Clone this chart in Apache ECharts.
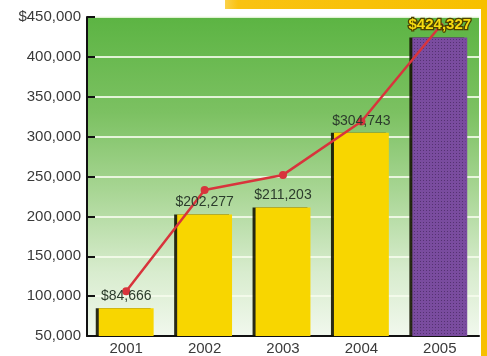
<!DOCTYPE html>
<html>
<head>
<meta charset="utf-8">
<script src="https://cdn.jsdelivr.net/npm/echarts@6/dist/echarts.min.js"></script>
<style>
  html, body { margin: 0; padding: 0; background: #ffffff; }
  #chart { width: 487px; height: 356px; }
</style>
</head>
<body>
<div id="chart"></div>
<script>
// Yearly revenue with a trend line
const categories = ['2001', '2002', '2003', '2004', '2005'];
const revenue = [84666, 202277, 211203, 304743, 424327];
const trend = [106000, 233000, 252000, 319000, 438000];
const yTicks = { min: 50000, max: 450000, step: 50000 };

const fmtMoney = v => '$' + v.toLocaleString('en-US');

const chart = echarts.init(document.getElementById('chart'), null, { renderer: 'canvas' });

const yellow = '#f8d600';
const purple = '#7a4c9f';

const barData = revenue.map((v, i) => {
  const last = i === revenue.length - 1;
  return {
    value: v,
    itemStyle: last ? {
      color: purple,
      decal: {
        symbol: 'rect',
        symbolSize: 1,
        color: 'rgba(50, 20, 80, 0.22)',
        dashArrayX: [1, 2],
        dashArrayY: [1, 2]
      }
    } : { color: yellow }
  };
});

const labelData = revenue.map((v, i) => {
  const last = i === revenue.length - 1;
  return {
    value: v,
    label: last ? {
      color: '#f6dc10',
      fontSize: 15,
      fontWeight: 'bold',
      textBorderColor: '#4d4000',
      textBorderWidth: 2.5
    } : {}
  };
});

chart.setOption({
  animation: false,
  textStyle: { fontFamily: 'Liberation Sans, Arial, sans-serif' },
  graphic: [
    // orange frame pieces around the plot
    {
      type: 'rect', z: -10,
      shape: { x: 225, y: 0, width: 262, height: 9 },
      style: {
        fill: new echarts.graphic.LinearGradient(0, 0, 1, 0, [
          { offset: 0, color: '#fbd24a' },
          { offset: 0.05, color: '#f9c212' },
          { offset: 1, color: '#f7c000' }
        ])
      }
    },
    {
      type: 'rect', z: -10,
      shape: { x: 481, y: 0, width: 6, height: 356 },
      style: { fill: '#f7c000' }
    }
  ],
  grid: {
    left: 87, right: 8, top: 17, bottom: 18,
    show: true,
    borderWidth: 0,
    backgroundColor: new echarts.graphic.LinearGradient(0, 0, 0, 1, [
      { offset: 0, color: '#5cb443' },
      { offset: 0.3, color: '#7cc162' },
      { offset: 0.55, color: '#a9d695' },
      { offset: 0.8, color: '#d8ecce' },
      { offset: 1, color: '#f1f8ed' }
    ])
  },
  xAxis: {
    type: 'category',
    data: categories,
    boundaryGap: true,
    axisLine: { lineStyle: { color: '#111', width: 2 } },
    axisTick: { inside: true, length: 6, lineStyle: { color: '#111', width: 2 } },
    axisLabel: { color: '#3a3a3a', fontSize: 15, margin: 5 }
  },
  yAxis: {
    type: 'value',
    min: yTicks.min,
    max: yTicks.max,
    interval: yTicks.step,
    axisLine: { show: true, lineStyle: { color: '#111', width: 2 } },
    axisTick: { show: true, inside: true, length: 8, lineStyle: { color: '#111', width: 2 } },
    axisLabel: {
      color: '#3a3a3a', fontSize: 15, margin: 6,
      formatter: v => v === yTicks.max ? fmtMoney(v) : v.toLocaleString('en-US')
    },
    splitLine: { show: true, lineStyle: { color: 'rgba(246, 252, 236, 0.85)', width: 2 } }
  },
  series: [
    {
      name: 'Revenue',
      type: 'bar',
      data: barData,
      barWidth: '70%',
      z: 2,
      itemStyle: {
        shadowColor: 'rgba(20, 20, 0, 0.9)',
        shadowOffsetX: -3,
        shadowOffsetY: 0,
        shadowBlur: 0
      }
    },
    {
      name: 'Trend',
      type: 'line',
      data: trend,
      z: 3,
      symbol: 'circle',
      symbolSize: 8,
      lineStyle: { color: '#d8343c', width: 2.5 },
      itemStyle: { color: '#d8343c' }
    },
    {
      // value labels, kept above the trend line
      name: 'Revenue labels',
      type: 'bar',
      data: labelData,
      barWidth: '70%',
      barGap: '-100%',
      z: 5,
      silent: true,
      itemStyle: { color: 'rgba(0,0,0,0)' },
      label: {
        show: true,
        position: 'top',
        distance: 5,
        color: '#2c3c2c',
        fontSize: 14,
        formatter: p => fmtMoney(p.value)
      }
    }
  ]
});
</script>
</body>
</html>
